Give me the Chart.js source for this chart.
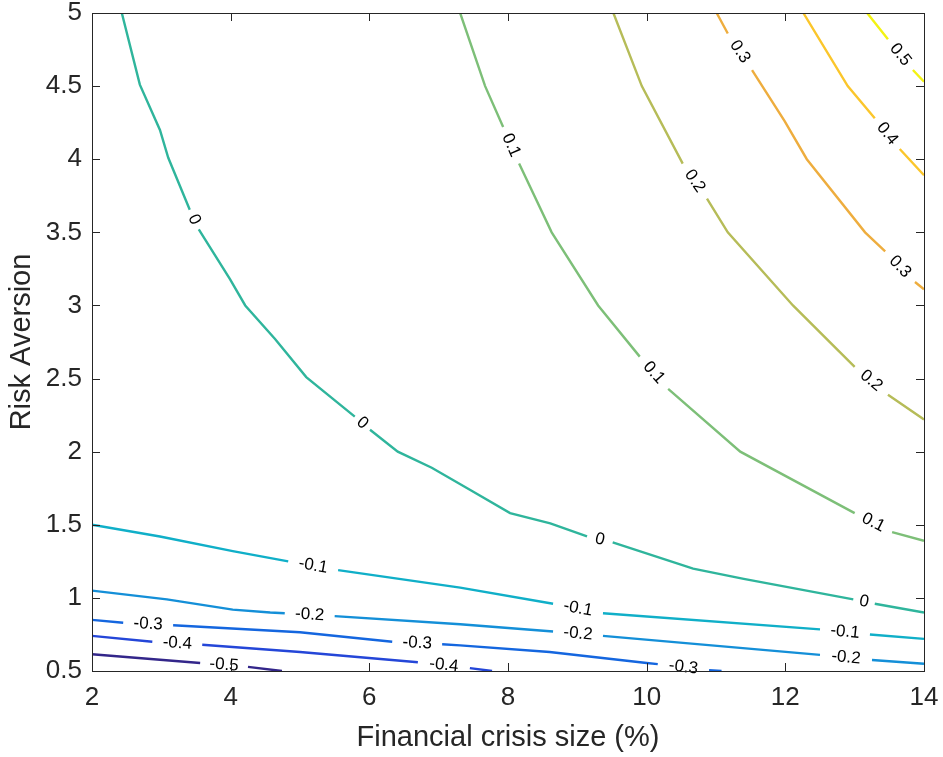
<!DOCTYPE html>
<html>
<head>
<meta charset="utf-8">
<script src="https://cdn.jsdelivr.net/npm/chart.js@4.4.1/dist/chart.umd.min.js"></script>
<style>
  html, body { margin: 0; padding: 0; background: #fff; }
  #wrap { width: 943px; height: 757px; }
</style>
</head>
<body>
<div id="wrap"><canvas id="contourChart"></canvas></div>
<script>
// contour lines, null = gap where the level label sits
const levels = [-0.5, -0.4, -0.3, -0.2, -0.1, 0, 0.1, 0.2, 0.3, 0.4, 0.5];

const xM05 = [2, 3.56, null, 4.25, 4.74];
const yM05 = [0.615, 0.555, null, 0.528, 0.5];

const xM04 = [2, 2.87, null, 3.59, 5.0, 6.7, null, 7.45, 7.77];
const yM04 = [0.74, 0.70, null, 0.68, 0.63, 0.56, null, 0.52, 0.5];

const xM03 = [2, 2.45, null, 3.17, 5.0, 6.33, null, 7.05, 7.31, 8.6, 10.0, 10.16, null, 10.9, 11.08];
const yM03 = [0.85, 0.83, null, 0.813, 0.765, 0.70, null, 0.683, 0.675, 0.63, 0.555, 0.547, null, 0.505, 0.5];

const xM02 = [2, 3.08, 4.03, 4.57, 4.78, null, 5.5, 7.31, 8.65, null, 9.37, 12.5, null, 13.25, 14];
const yM02 = [1.05, 0.99, 0.92, 0.90, 0.895, null, 0.875, 0.82, 0.77, null, 0.74, 0.61, null, 0.575, 0.55];

const xM01 = [2, 2.98, 4.03, 4.83, null, 5.55, 7.31, 8.65, null, 9.37, 12.5, null, 13.22, 14];
const yM01 = [1.5, 1.42, 1.32, 1.25, null, 1.19, 1.07, 0.96, null, 0.895, 0.785, null, 0.75, 0.72];

const x00 = [2.43, 2.69, 2.98, 3.10, 3.41, null, 3.54, 3.99, 4.21, 4.64, 5.09, 5.79, null, 6.01, 6.41, 6.90, 7.45, 8.03, 8.61, 9.14, null, 9.51, 10.67, 11.4, 12.98, null, 13.29, 14];
const y00 = [5, 4.51, 4.2, 4.01, 3.655, null, 3.52, 3.18, 3.0, 2.77, 2.51, 2.24, null, 2.15, 2.0, 1.89, 1.74, 1.58, 1.51, 1.42, null, 1.38, 1.20, 1.13, 0.99, null, 0.96, 0.90];

const x01 = [7.31, 7.67, 7.93, null, 8.16, 8.63, 9.30, 9.90, null, 10.31, 11.35, 13.0, null, 13.54, 14];
const y01 = [5, 4.5, 4.22, null, 3.97, 3.5, 3.0, 2.65, null, 2.43, 2.0, 1.58, null, 1.45, 1.39];

const x02 = [9.52, 9.93, 10.52, null, 10.87, 11.17, 12.11, 13.0, null, 13.48, 14];
const y02 = [5, 4.5, 3.97, null, 3.73, 3.5, 3.0, 2.58, null, 2.39, 2.22];

const x03 = [11.01, 11.17, null, 11.52, 11.99, 12.31, 13.15, 13.44, null, 13.87, 14];
const y03 = [5, 4.86, null, 4.61, 4.26, 4.0, 3.5, 3.37, null, 3.16, 3.11];

const x04 = [12.26, 12.9, 13.29, null, 13.65, 14];
const y04 = [5, 4.5, 4.28, null, 4.07, 3.89];

const x05 = [13.18, 13.48, null, 13.84, 14];
const y05 = [5, 4.82, null, 4.61, 4.53];

const xTicks = [2, 4, 6, 8, 10, 12, 14];
const yTicks = [0.5, 1, 1.5, 2, 2.5, 3, 3.5, 4, 4.5, 5];

// parula-like colours, one per level
const lineColors = ["#33268a", "#2446d8", "#1466df", "#148fd8", "#10afc8",
                    "#2fb59c", "#7dbf78", "#b6bc58", "#eead3e", "#fbc62b", "#f3f313"];

const contourX = [xM05, xM04, xM03, xM02, xM01, x00, x01, x02, x03, x04, x05];
const contourY = [yM05, yM04, yM03, yM02, yM01, y00, y01, y02, y03, y04, y05];

function toPoints(xs, ys) {
  return xs.map((x, i) => ({ x: x, y: ys[i] }));
}

const datasets = levels.map((lv, i) => ({
  label: String(lv),
  data: toPoints(contourX[i], contourY[i]),
  borderColor: lineColors[i],
  borderWidth: 2.4,
  pointRadius: 0,
  showLine: true,
  spanGaps: false,
  tension: 0
}));

const AXIS_COLOR = "#262626";
const FONT = "'Liberation Sans', Arial, Helvetica, sans-serif";

// box round the plot, ticks pointing inward on all four sides
const boxPlugin = {
  id: "box",
  afterDraw(chart) {
    const { ctx, chartArea: a, scales } = chart;
    ctx.save();
    ctx.strokeStyle = AXIS_COLOR;
    ctx.lineWidth = 1;
    ctx.strokeRect(a.left + 0.5, a.top + 0.5, a.right - a.left, a.bottom - a.top);
    const len = 8;
    ctx.beginPath();
    xTicks.forEach(v => {
      const px = Math.round(scales.x.getPixelForValue(v)) + 0.5;
      ctx.moveTo(px, a.bottom); ctx.lineTo(px, a.bottom - len);
      ctx.moveTo(px, a.top); ctx.lineTo(px, a.top + len);
    });
    yTicks.forEach(v => {
      const py = Math.round(scales.y.getPixelForValue(v)) + 0.5;
      ctx.moveTo(a.left, py); ctx.lineTo(a.left + len, py);
      ctx.moveTo(a.right, py); ctx.lineTo(a.right - len, py);
    });
    ctx.stroke();
    ctx.restore();
  }
};

// inline level labels, placed in each gap and turned along the line
const labelPlugin = {
  id: "contourLabels",
  afterDatasetsDraw(chart) {
    const { ctx, scales } = chart;
    ctx.save();
    ctx.fillStyle = "#000";
    ctx.font = "17px " + FONT;
    ctx.textAlign = "center";
    ctx.textBaseline = "middle";
    levels.forEach((lv, i) => {
      const xs = contourX[i], ys = contourY[i];
      for (let k = 1; k < xs.length - 1; k++) {
        if (xs[k] !== null) continue;
        const x1 = scales.x.getPixelForValue(xs[k - 1]);
        const y1 = scales.y.getPixelForValue(ys[k - 1]);
        const x2 = scales.x.getPixelForValue(xs[k + 1]);
        const y2 = scales.y.getPixelForValue(ys[k + 1]);
        let ang = Math.atan2(y2 - y1, x2 - x1);
        if (ang > Math.PI / 2) ang -= Math.PI;
        if (ang < -Math.PI / 2) ang += Math.PI;
        ctx.save();
        ctx.translate((x1 + x2) / 2, (y1 + y2) / 2);
        ctx.rotate(ang);
        ctx.fillText(String(lv), 0, 0);
        ctx.restore();
      }
    });
    ctx.restore();
  }
};

const ctx = document.getElementById("contourChart").getContext("2d");
const contourChart = new Chart(ctx, {
  type: "scatter",
  data: { datasets: datasets },
  options: {
    responsive: true,
    maintainAspectRatio: false,
    animation: false,
    layout: { padding: { top: 13, right: 19, left: 0, bottom: 0 } },
    plugins: {
      legend: { display: false },
      tooltip: { enabled: false }
    },
    scales: {
      x: {
        type: "linear",
        min: 2,
        max: 14,
        afterFit: s => { s.height = 86; s.paddingLeft = 0; s.paddingRight = 0; },
        afterBuildTicks: s => { s.ticks = xTicks.map(v => ({ value: v })); },
        grid: { display: false },
        border: { display: false },
        ticks: { color: AXIS_COLOR, font: { family: FONT, size: 26 }, padding: 3, maxRotation: 0,
                 callback: v => String(v) },
        title: { display: true, text: "Financial crisis size (%)", color: AXIS_COLOR,
                 font: { family: FONT, size: 29 }, padding: { top: 0, bottom: 2 } }
      },
      y: {
        type: "linear",
        min: 0.5,
        max: 5,
        afterFit: s => { s.width = 92; s.paddingTop = 0; s.paddingBottom = 0; },
        afterBuildTicks: s => { s.ticks = yTicks.map(v => ({ value: v })); },
        grid: { display: false },
        border: { display: false },
        ticks: { color: AXIS_COLOR, font: { family: FONT, size: 26 }, padding: 2,
                 callback: v => String(v) },
        title: { display: true, text: "Risk Aversion", color: AXIS_COLOR,
                 font: { family: FONT, size: 29 }, padding: { top: 5, bottom: 0 } }
      }
    }
  },
  plugins: [boxPlugin, labelPlugin]
});
</script>
</body>
</html>
